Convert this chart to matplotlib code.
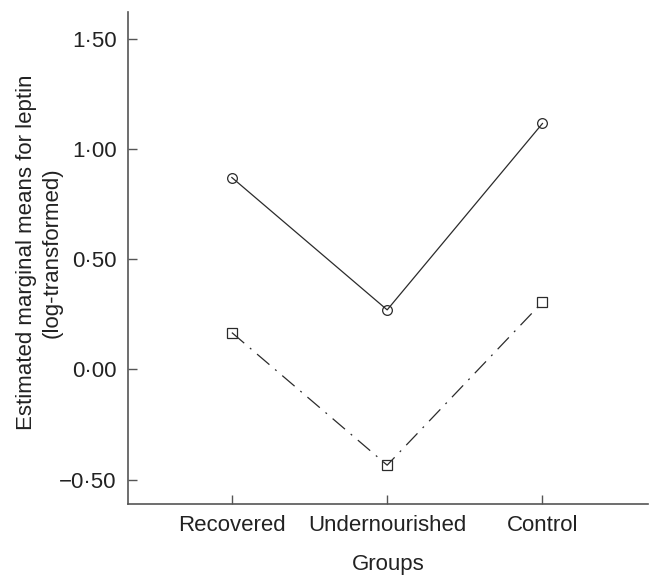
import numpy as np
import matplotlib.pyplot as plt

# data
groups = ['Recovered', 'Undernourished', 'Control']
series_circle = [0.87, 0.27, 1.115]
series_square = [0.167, -0.434, 0.305]
ytick_vals = [-0.5, 0.0, 0.5, 1.0, 1.5]
ytick_labels = ['\u22120\u00b750', '0\u00b700', '0\u00b750', '1\u00b700', '1\u00b750']

plt.rcParams['font.family'] = ['Liberation Sans', 'DejaVu Sans']

fig = plt.figure(figsize=(6.52, 5.75), dpi=100)
ax = fig.add_axes([0.196, 0.1235, 0.798, 0.8555])

x = np.arange(len(groups))
line_col = '#2b2b2b'
ax.plot(x, series_circle, color=line_col, lw=0.9, marker='o', ms=7,
        mfc='none', mec=line_col, mew=0.9)
ax.plot(x, series_square, color=line_col, lw=0.9, ls=(0, (13, 6, 1.5, 6)),
        marker='s', ms=7, mfc='none', mec=line_col, mew=0.9)

ax.set_xlim(-0.67, 2.68)
ax.set_ylim(-0.61, 1.62)
ax.set_xticks(x)
ax.set_xticklabels(groups)
ax.set_yticks(ytick_vals)
ax.set_yticklabels(ytick_labels)

for s in ['top', 'right']:
    ax.spines[s].set_visible(False)
for s in ['left', 'bottom']:
    ax.spines[s].set_color('#555555')
    ax.spines[s].set_linewidth(1.2)

ax.tick_params(direction='in', length=6.5, width=1, colors='#555555',
               labelcolor='#222222', labelsize=16, pad=8)

ax.set_xlabel('Groups', fontsize=16, color='#222222', labelpad=13)
ax.set_ylabel('Estimated marginal means for leptin\n(log-transformed)',
              fontsize=16, color='#222222', linespacing=1.27)
ax.yaxis.set_label_coords(-0.125, 0.511)

fig.savefig('out.png', dpi=100)
